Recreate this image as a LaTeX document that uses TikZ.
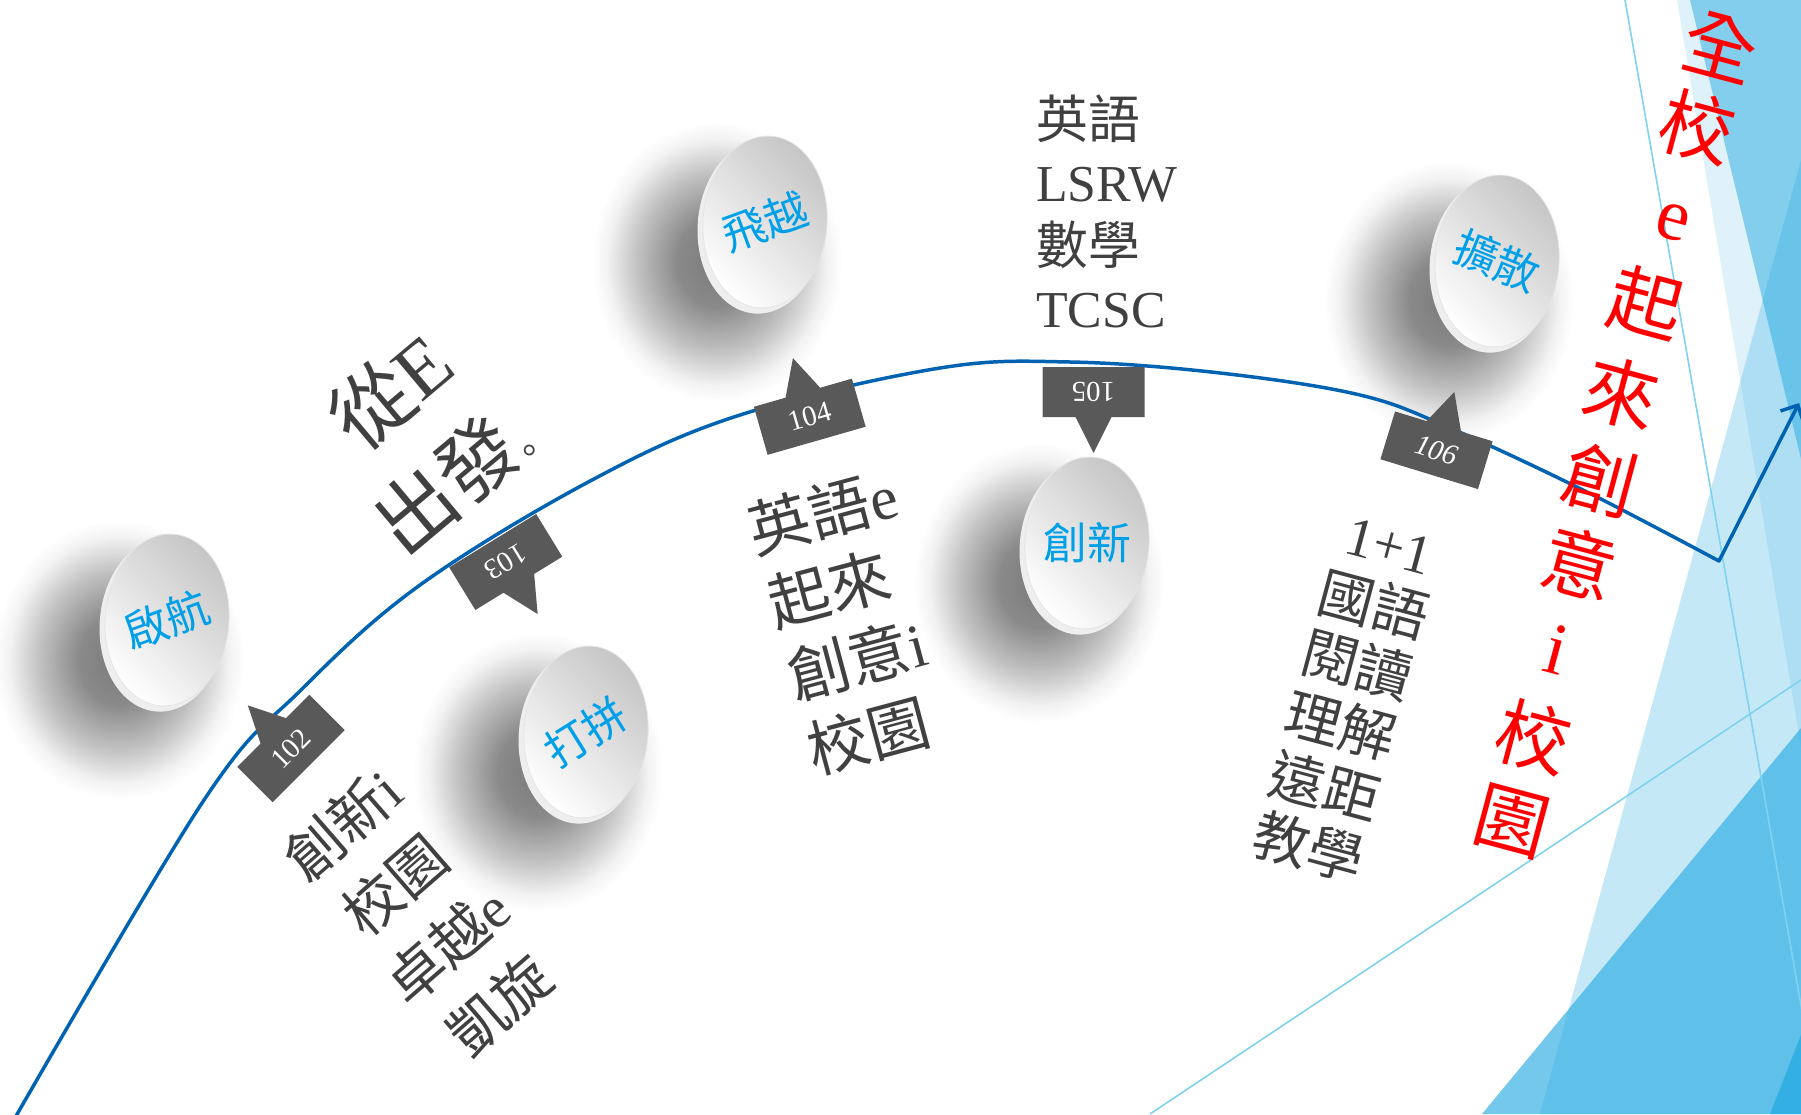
\documentclass[tikz,border=0pt]{standalone}
\usepackage{fontspec}
\setmainfont{Liberation Serif}
\newfontfamily\cjk{Noto Sans CJK TC}
\newfontfamily\cjksc{Noto Sans CJK SC}
\newcommand{\zh}[1]{{\cjk #1}}
\usetikzlibrary{arrows.meta}
\definecolor{curveblue}{RGB}{0,99,178}
\definecolor{tagfill}{RGB}{89,89,89}
\definecolor{txtgray}{RGB}{64,64,64}
\definecolor{lblblue}{RGB}{0,160,233}
\definecolor{facet}{RGB}{41,171,226}
\definecolor{thinline}{RGB}{128,210,240}
\pgfdeclareradialshading{softshadow}{\pgfpoint{0bp}{0bp}}{color(0bp)=(black!52); color(8bp)=(black!46); color(16bp)=(black!24); color(22bp)=(black!5); color(25bp)=(white); color(50bp)=(white)}
\tikzset{
  numtag/.pic={\fill[tagfill] (-51,-25) -- (-18,-25) -- (0,-61) -- (18,-25) -- (51,-25) -- (51,25) -- (-51,25) -- cycle;},
  tagnum/.style={text=white, font=\fontsize{29}{30}\selectfont, inner sep=0pt},
  lbl/.style={text=lblblue, font=\cjk\fontsize{44}{50}\selectfont, inner sep=0pt},
  body/.style={text=txtgray, inner sep=0pt},
  redch/.style={text=red, rotate=-15, inner sep=0pt, font=\fontsize{74}{80}\selectfont},
  facetfill/.style={fill=facet, opacity=#1},
  thin/.style={draw=thinline, line width=1.6}
}
\begin{document}
\begin{tikzpicture}[x=1bp,y=-1bp]
\useasboundingbox (0,0) rectangle (1801,1114);
\begin{scope}
\clip (0,0) rectangle (1801,1114);
\fill[white] (0,0) rectangle (1801,1114);
% facets on the right
\fill[facetfill=0.15] (1677,0) -- (1801,0) -- (1801,747) -- cycle;
\fill[facetfill=0.5] (1690,0) -- (1801,0) -- (1801,459) -- cycle;
\fill[facetfill=0.27] (1540,1114) -- (1801,160) -- (1801,1114) -- cycle;
\fill[facetfill=0.65] (1482,1114) -- (1801,728) -- (1801,1114) -- cycle;
\fill[facetfill=0.8] (1770,1114) -- (1801,1035) -- (1801,1114) -- cycle;
\coordinate (la1) at (1625,0);
\coordinate (la2) at (1820,1114);
\coordinate (lb1) at (1150,1114);
\coordinate (lb2) at (1801,680);
\draw[thin] (la1) -- (la2);
\draw[thin] (lb1) -- (lb2);
% shadows
\foreach \cx/\cy in {167/620, 586/732, 765/222, 1087/543, 1497/261}{
  \shade[shading=softshadow] (\cx-48,\cy+40) ellipse (125 and 140);
}
% main curve
\coordinate (V) at (1719,561);
\coordinate (tipA) at (1799,403);
\draw[curveblue, line width=3.5, line join=round, -{Straight Barb[length=13bp,width=26bp]}]
  plot[smooth, tension=0.6] coordinates {(8,1130) (204,800) (301,690) (420,585) (592,480) (740,415) (940,368) (1070,362) (1220,373) (1360,395) (1450,428) (1583,490) (1719,561)} -- (tipA);
% tags
\begin{scope}[shift={(291,748.5)},rotate=45]
  \pic[transform shape] {numtag}; \node[tagnum, rotate=45] (n102) at (0,0) {102};
\end{scope}
\begin{scope}[shift={(505.75,562)},rotate=211.5]
  \pic[transform shape] {numtag}; \node[tagnum, rotate=211.5] (n103) at (0,0) {103};
\end{scope}
\begin{scope}[shift={(809.75,416.75)},rotate=16]
  \pic[transform shape] {numtag}; \node[tagnum, rotate=16] (n104) at (0,0) {104};
\end{scope}
\begin{scope}[shift={(1093.5,392)},rotate=180]
  \pic[transform shape] {numtag}; \node[tagnum, rotate=180] (n105) at (0,0) {105};
\end{scope}
\begin{scope}[shift={(1436.5,450.25)},rotate=-17]
  \pic[transform shape] {numtag}; \node[tagnum, rotate=-17, font=\itshape\fontsize{29}{30}\selectfont] (n106) at (0,0) {106};
\end{scope}
% discs
\foreach \cx/\cy/\nm/\lab/\ang in {167/620/d1/啟航/20, 586/732/d2/打拼/32, 765/222/d3/飛越/20, 1087/543/d4/創新/0, 1497/261/d5/擴散/-22}{
  \fill[gray!13, rotate around={-4:(\cx,\cy)}] (\cx-4,\cy+5) ellipse (63 and 87);
  \shadedraw[top color=gray!45, bottom color=white, shading angle=-45, draw=gray!20, line width=0.8, rotate around={-4:(\cx,\cy)}] (\cx,\cy) ellipse (62 and 86);
  \node[lbl, rotate=\ang] (\nm) at (\cx,\cy) {\lab};
}
% texts
\node[body, rotate=40, align=center, font=\fontsize{80}{109}\selectfont] (start) at (425,432) {\zh{從}E\\\zh{出發}{\cjksc\fontsize{36}{40}\selectfont 。}};
\node[body, rotate=41, align=center, font=\fontsize{58}{80}\selectfont] (t102) at (421,915) {\zh{創新}i\\\zh{校園}\\\zh{卓越}e\\\zh{凱旋}};
\node[body, rotate=15, align=left, font=\fontsize{62}{76}\selectfont] (t104) at (852,622) {\zh{英語}e\\\zh{起來}\\\zh{創意}i\\\zh{校園}};
\node[body, anchor=base west, font=\cjk\fontsize{52}{63}\selectfont] (t105a) at (1036,138) {英語};
\node[body, anchor=base west, font=\fontsize{52}{63}\selectfont] (t105b) at (1036,201) {LSRW};
\node[body, anchor=base west, font=\cjk\fontsize{52}{63}\selectfont] (t105c) at (1036,264) {數學};
\node[body, anchor=base west, font=\fontsize{52}{63}\selectfont] (t105d) at (1036,327) {TCSC};
\node[body, rotate=-15, align=center, font=\fontsize{56}{63}\selectfont] (t106) at (1348,700) {1+1\\\zh{國語}\\\zh{閱讀}\\\zh{理解}\\\zh{遠距}\\\zh{教學}};
% red column
\node[redch] (r1) at (1720,47) {\zh{全}};
\node[redch] (r2) at (1697,127) {\zh{校}};
\node[redch] (r3) at (1673,222) {e};
\node[redch] (r4) at (1646,303) {\zh{起}};
\node[redch] (r5) at (1621,393) {\zh{來}};
\node[redch] (r6) at (1600,480) {\zh{創}};
\node[redch] (r7) at (1580,563) {\zh{意}};
\node[redch] (r8) at (1557,650) {i};
\node[redch] (r9) at (1533,737) {\zh{校}};
\node[redch] (r10) at (1512,822) {\zh{園}};
\end{scope}
\end{tikzpicture}
\end{document}
